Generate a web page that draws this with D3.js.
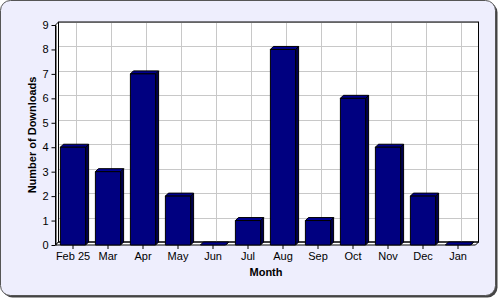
<!DOCTYPE html>
<html>
<head>
<meta charset="utf-8">
<script src="https://cdn.jsdelivr.net/npm/d3@7"></script>
<style>
  body { margin: 0; background: #fff; }
  text { font-family: "Liberation Sans", Arial, sans-serif; }
</style>
</head>
<body>
<div id="chart"></div>
<script>
// Data
const months = ["Feb 25", "Mar", "Apr", "May", "Jun", "Jul", "Aug", "Sep", "Oct", "Nov", "Dec", "Jan"];
const downloads = [4, 3, 7, 2, 0, 1, 8, 1, 6, 4, 2, 0];
const yTicks = [0, 1, 2, 3, 4, 5, 6, 7, 8, 9];

const width = 500, height = 300;
const depth = 3; // 3D offset

const svg = d3.select("#chart").append("svg")
    .attr("width", width)
    .attr("height", height);

// Frame with shadow
svg.append("rect")
    .attr("x", 2.5).attr("y", 2.5)
    .attr("width", 495).attr("height", 295)
    .attr("rx", 10)
    .attr("fill", "#444");
svg.append("rect")
    .attr("x", 0.5).attr("y", 0.5)
    .attr("width", 495).attr("height", 295)
    .attr("rx", 10)
    .attr("fill", "#eeeefd")
    .attr("stroke", "#555");

const x = d3.scaleBand()
    .domain(months)
    .range([55.5, 475.5])
    .paddingInner(0.28)
    .paddingOuter(0.14);

const y = d3.scaleLinear()
    .domain([0, 9])
    .range([245, 25]);

const x0 = 55.5, x1 = 475.5, y0 = y(0), yTop = y(9);

// Back wall
svg.append("rect")
    .attr("x", x0 + depth).attr("y", yTop - depth)
    .attr("width", x1 - x0).attr("height", y0 - yTop)
    .attr("fill", "#fff");

// Left side wall
svg.append("polygon")
    .attr("points", [[x0, yTop], [x0 + depth, yTop - depth], [x0 + depth, y0 - depth], [x0, y0]].join(" "))
    .attr("fill", "#fff")
    .attr("stroke", "#000");

// Floor
svg.append("polygon")
    .attr("points", [[x0, y0], [x0 + depth, y0 - depth], [x1 + depth, y0 - depth], [x1, y0]].join(" "))
    .attr("fill", "#fff")
    .attr("stroke", "#000");

// Grid lines on back wall
svg.append("g").selectAll("line.h")
    .data(yTicks.slice(1))
    .join("line")
    .attr("x1", x0 + depth).attr("x2", x1 + depth)
    .attr("y1", d => Math.round(y(d) - depth) + 0.5)
    .attr("y2", d => Math.round(y(d) - depth) + 0.5)
    .attr("stroke", "#c8c8c8");

svg.append("g").selectAll("line.v")
    .data(months)
    .join("line")
    .attr("x1", d => Math.round(x(d) + x.bandwidth() / 2 + depth) + 0.5)
    .attr("x2", d => Math.round(x(d) + x.bandwidth() / 2 + depth) + 0.5)
    .attr("y1", yTop - depth)
    .attr("y2", y0 - depth)
    .attr("stroke", "#c8c8c8");

// Back wall outline
svg.append("rect")
    .attr("x", x0 + depth).attr("y", yTop - depth)
    .attr("width", x1 - x0).attr("height", y0 - yTop)
    .attr("fill", "none")
    .attr("stroke", "#000");

// Bars
const bw = x.bandwidth();
const bars = svg.append("g")
    .selectAll("g")
    .data(months.map((m, i) => ({ month: m, value: downloads[i] })))
    .join("g")
    .attr("stroke", "#000")
    .attr("stroke-linejoin", "round");

bars.append("polygon")
    .attr("points", d => {
        const bx = x(d.month), by = y(d.value);
        return [[bx + bw, by], [bx + bw + depth, by - depth], [bx + bw + depth, y0 - depth], [bx + bw, y0]].join(" ");
    })
    .attr("fill", "#000050");

bars.append("polygon")
    .attr("points", d => {
        const bx = x(d.month), by = y(d.value);
        return [[bx, by], [bx + depth, by - depth], [bx + bw + depth, by - depth], [bx + bw, by]].join(" ");
    })
    .attr("fill", "#000090");

bars.filter(d => d.value > 0).append("rect")
    .attr("x", d => x(d.month))
    .attr("y", d => y(d.value))
    .attr("width", bw)
    .attr("height", d => y0 - y(d.value))
    .attr("fill", "#000080");

// Y axis (front)
const yAxis = svg.append("g")
    .attr("transform", `translate(${x0},0)`)
    .call(d3.axisLeft(y).tickValues(yTicks).tickSize(4).tickPadding(3).tickSizeOuter(0));
yAxis.select(".domain").attr("stroke", "#000");
yAxis.selectAll("text")
    .attr("font-size", 11)
    .attr("fill", "#000")
    .style("font-family", "Liberation Sans, Arial, sans-serif");

// X axis (front)
const xAxis = svg.append("g")
    .attr("transform", `translate(0,${y0})`)
    .call(d3.axisBottom(x).tickSize(4).tickPadding(3).tickSizeOuter(0));
xAxis.select(".domain").remove();
xAxis.selectAll("text")
    .attr("font-size", 11)
    .attr("fill", "#000")
    .style("font-family", "Liberation Sans, Arial, sans-serif");

// Axis titles
svg.append("text")
    .attr("x", 266)
    .attr("y", 276)
    .attr("text-anchor", "middle")
    .attr("font-size", 11)
    .attr("font-weight", "bold")
    .text("Month");

svg.append("text")
    .attr("transform", "translate(36,135) rotate(-90)")
    .attr("text-anchor", "middle")
    .attr("font-size", 11)
    .attr("font-weight", "bold")
    .text("Number of Downloads");
</script>
</body>
</html>
